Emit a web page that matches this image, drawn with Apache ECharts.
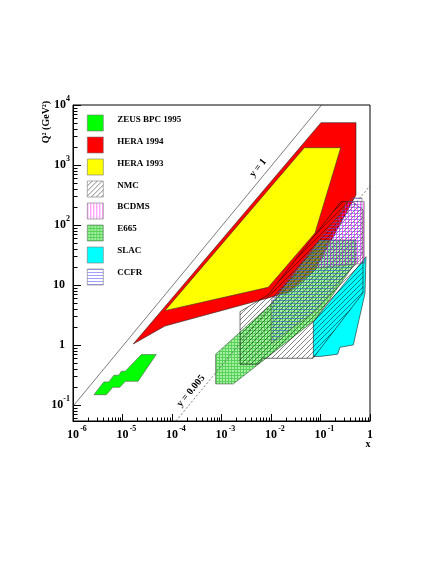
<!DOCTYPE html>
<html>
<head>
<meta charset="utf-8">
<script src="https://cdn.jsdelivr.net/npm/echarts@6/dist/echarts.min.js"></script>
<style>
  html, body { margin: 0; padding: 0; background: #fff; }
  #chart { width: 436px; height: 564px; }
</style>
</head>
<body>
<div id="chart"></div>
<script>
// kinematic regions as [x, Q2] vertices
const zeusBPC95 = [[2.65e-6, 0.148], [4.2e-6, 0.242], [5.3e-6, 0.242], [6.7e-6, 0.313], [8.4e-6, 0.313],
  [9.5e-6, 0.365], [1.14e-5, 0.365], [2.4e-5, 0.69], [4.8e-5, 0.69], [2.06e-5, 0.248], [1.14e-5, 0.248],
  [8.8e-6, 0.197], [6.4e-6, 0.197], [4.7e-6, 0.148]];
const hera94 = [[1.65e-5, 1.04], [0.102, 5070], [0.521, 5070], [0.521, 316], [0.0775, 17.8], [0.0242, 7.64],
  [0.0087, 6.07], [7.2e-5, 2.07]];
const hera93 = [[7.2e-5, 3.73], [0.0471, 1942], [0.256, 1942], [0.0775, 73.6], [0.0088, 9.15]];
const nmc = [[2.37e-3, 3.59], [2.37e-3, 0.477], [5.46e-3, 0.477], [6.9e-3, 0.6], [0.0705, 0.6], [0.723, 7.36],
  [0.723, 178], [0.432, 245], [0.259, 245], [0.0087, 6.8]];
const bcdms = [[0.338, 245], [0.767, 245], [0.767, 23], [0.081, 19.2]];
const e665 = [[7.6e-4, 0.70], [7.6e-4, 0.224], [1.73e-3, 0.224], [0.0775, 2.61], [0.521, 24.2], [0.521, 56.2],
  [0.0977, 56.2], [0.00955, 4.64]];
const slac = [[0.0716, 2.42], [0.0716, 0.643], [0.0977, 0.643], [0.222, 0.70], [0.248, 0.915], [0.46, 1.0],
  [0.793, 7.27], [0.83, 29.6]];
const ccfr = [[0.0103, 5.62], [0.0103, 1.07], [0.0838, 3.83], [0.689, 31.6], [0.689, 282], [0.432, 282]];

// lines of constant y
const lineY1 = [[1e-6, 0.095], [0.105, 1e4]];
const lineY0005 = [[1.2e-4, 0.054], [1, 450]];

const legendNames = ["ZEUS BPC 1995", "HERA 1994", "HERA 1993", "NMC", "BCDMS", "E665", "SLAC", "CCFR"];
const xTickExps = [-6, -5, -4, -3, -2, -1, 0];
const yTickExps = [-2, -1, 0, 1, 2, 3, 4];
const minorMults = [2, 3, 4, 5, 6, 7, 8, 9];
const xMin = 1e-6, xMax = 1, yMin = 0.054, yMax = 1e4;

const serif = '"Liberation Serif", "Times New Roman", serif';

function pattern(w, h, draw, bg) {
  const c = document.createElement('canvas');
  c.width = w; c.height = h;
  const g = c.getContext('2d');
  if (bg) { g.fillStyle = bg; g.fillRect(0, 0, w, h); }
  draw(g);
  return { image: c, repeat: 'repeat' };
}

const nmcFill = pattern(5, 5, g => {
  g.strokeStyle = 'rgba(0,0,0,0.8)'; g.lineWidth = 0.6;
  g.beginPath();
  g.moveTo(-1, 6); g.lineTo(6, -1);
  g.moveTo(-1, 1); g.lineTo(1, -1);
  g.moveTo(4, 6); g.lineTo(6, 4);
  g.stroke();
});
const bcdmsFill = pattern(3, 3, g => { g.fillStyle = 'rgba(255,0,255,0.5)'; g.fillRect(0, 0, 1, 3); });
const ccfrFill = pattern(3, 3, g => { g.fillStyle = 'rgba(80,80,255,0.55)'; g.fillRect(0, 0, 3, 1); });
const e665Fill = pattern(3, 3, g => {
  g.fillStyle = 'rgba(0,170,0,0.45)';
  g.fillRect(0, 0, 3, 1); g.fillRect(0, 1, 1, 2);
}, 'rgba(90,230,90,0.55)');

const styles = {
  "ZEUS BPC 1995": { fill: '#00ff00', stroke: '#555', lineWidth: 0.6 },
  "HERA 1994": { fill: '#ff0000', stroke: '#222', lineWidth: 0.6 },
  "HERA 1993": { fill: '#ffff00', stroke: '#333', lineWidth: 0.6 },
  "NMC": { fill: nmcFill, stroke: '#111', lineWidth: 0.6 },
  "BCDMS": { fill: bcdmsFill, stroke: '#555', lineWidth: 0.5 },
  "E665": { fill: e665Fill, stroke: '#333', lineWidth: 0.5 },
  "SLAC": { fill: '#00ffff', stroke: '#222', lineWidth: 0.6 },
  "CCFR": { fill: ccfrFill, stroke: '#555', lineWidth: 0.5 }
};

function regionSeries(name, pts) {
  return {
    type: 'custom', name: name, data: pts, silent: true, clip: true,
    encode: { x: 0, y: 1 },
    renderItem: function (params, api) {
      if (params.dataIndex !== 0) return;
      return {
        type: 'polygon',
        shape: { points: pts.map(p => api.coord(p)) },
        style: styles[name]
      };
    }
  };
}

// minor tick positions on the log axes
const xMinor = [], yMinor = [];
xTickExps.forEach(e => minorMults.forEach(m => {
  const v = m * Math.pow(10, e);
  if (v > xMin && v < xMax) xMinor.push([v, yMin]);
}));
yTickExps.forEach(e => minorMults.forEach(m => {
  const v = m * Math.pow(10, e);
  if (v > yMin && v < yMax) yMinor.push([xMin, v]);
}));

function tickSeries(data, horizontal) {
  return {
    type: 'custom', data: data, silent: true, clip: false, z: 5,
    encode: { x: 0, y: 1 },
    renderItem: function (params, api) {
      const p = api.coord([api.value(0), api.value(1)]);
      const x = Math.round(p[0]) + 0.5, y = Math.round(p[1]) + 0.5;
      return {
        type: 'line',
        shape: horizontal ? { x1: x, y1: y, x2: x + 4, y2: y } : { x1: x, y1: y, x2: x, y2: y - 4 },
        style: { stroke: '#000', lineWidth: 1 }
      };
    }
  };
}

function isDecade(v) {
  const l = Math.log10(v);
  return Math.abs(l - Math.round(l)) < 1e-6;
}

const baseRich = {
  b: { fontFamily: serif, fontWeight: 'bold', fontSize: 12, lineHeight: 20, color: '#000' },
  e: { fontFamily: serif, fontWeight: 'bold', fontSize: 8, lineHeight: 10, verticalAlign: 'top', color: '#000' }
};

const chart = echarts.init(document.getElementById('chart'), null, { renderer: 'canvas' });

const series = [
  regionSeries("HERA 1994", hera94),
  regionSeries("HERA 1993", hera93),
  regionSeries("ZEUS BPC 1995", zeusBPC95),
  regionSeries("E665", e665),
  regionSeries("SLAC", slac),
  regionSeries("NMC", nmc),
  regionSeries("CCFR", ccfr),
  regionSeries("BCDMS", bcdms),
  {
    type: 'line', data: lineY1, symbol: 'none', silent: true, z: 3,
    lineStyle: { color: '#444', width: 0.7 }
  },
  {
    type: 'line', data: lineY0005, symbol: 'none', silent: true, z: 3,
    lineStyle: { color: '#444', width: 0.7, type: [2, 2] }
  },
  tickSeries(xMinor, false),
  tickSeries(yMinor, true)
];

const graphics = [];
legendNames.forEach((name, i) => {
  const st = styles[name];
  graphics.push({
    type: 'rect', left: 87, top: 114.7 + 22 * i,
    shape: { width: 16, height: 16 },
    style: { fill: st.fill, stroke: '#777', lineWidth: 0.6 }
  });
  graphics.push({
    type: 'text', x: 117.3, y: 119.5 + 21.9 * i,
    style: { text: name, font: 'bold 9px ' + serif, fill: '#000', align: 'left', verticalAlign: 'middle' }
  });
});
graphics.push({
  type: 'text', x: 46, y: 122, rotation: Math.PI / 2,
  style: { text: 'Q² (GeV²)', font: 'bold 10px ' + serif, fill: '#000', align: 'center', verticalAlign: 'middle' }
});
graphics.push({
  type: 'text', x: 368, y: 444,
  style: { text: 'x', font: 'bold 10px ' + serif, fill: '#000', align: 'center', verticalAlign: 'middle' }
});
graphics.push({
  type: 'text', x: 258, y: 168, rotation: 0.88,
  style: { text: 'y = 1', font: 'bold 10px ' + serif, fill: '#000', align: 'center', verticalAlign: 'middle' }
});
graphics.push({
  type: 'text', x: 191, y: 391, rotation: 0.88,
  style: { text: 'y = 0.005', font: 'bold 10px ' + serif, fill: '#000', align: 'center', verticalAlign: 'middle' }
});

const option = {
  backgroundColor: '#fff',
  animation: false,
  grid: {
    left: 73, right: 66, top: 105, bottom: 143,
    containLabel: false, outerBoundsMode: 'none',
    show: true, borderColor: '#000', borderWidth: 1, backgroundColor: 'transparent'
  },
  xAxis: {
    type: 'log', logBase: 10, min: xMin, max: xMax, splitNumber: 6,
    axisLine: { lineStyle: { color: '#000', width: 1 } },
    axisTick: { inside: true, length: 7, lineStyle: { color: '#000', width: 1 } },
    splitLine: { show: false },
    axisLabel: {
      margin: 4, hideOverlap: false,
      formatter: function (v) {
        if (!isDecade(v)) return '';
        const e = Math.round(Math.log10(v));
        if (e === 0) return '{b|1}';
        return '{p| }{b|10}{e|' + e + '}';
      },
      rich: Object.assign({}, baseRich, {
        e: Object.assign({}, baseRich.e, { width: 9, align: 'left' }),
        p: { width: 9, fontSize: 8 }
      })
    }
  },
  yAxis: {
    type: 'log', logBase: 10, min: yMin, max: yMax, splitNumber: 5,
    axisLine: { lineStyle: { color: '#000', width: 1 } },
    axisTick: { inside: true, length: 8, lineStyle: { color: '#000', width: 1 } },
    splitLine: { show: false },
    axisLabel: {
      margin: 3, hideOverlap: false,
      formatter: function (v) {
        if (!isDecade(v)) return '';
        const e = Math.round(Math.log10(v));
        if (e === 0) return '{b|1}{s| }';
        if (e === 1) return '{b|10}{s| }';
        return '{b|10}{e|' + e + '}';
      },
      rich: Object.assign({}, baseRich, { s: { width: 5, fontSize: 8 } })
    }
  },
  series: series,
  graphic: graphics
};

chart.setOption(option);
</script>
</body>
</html>
